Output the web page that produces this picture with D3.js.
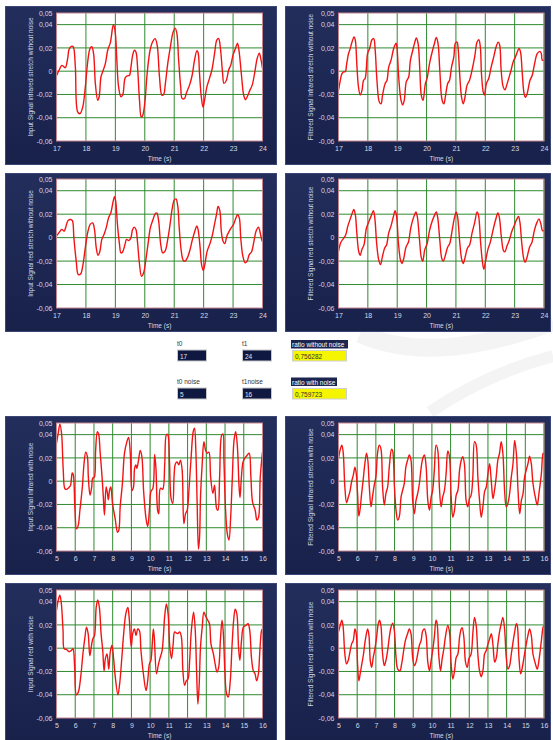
<!DOCTYPE html>
<html>
<head>
<meta charset="utf-8">
<script src="https://cdn.jsdelivr.net/npm/d3@7"></script>
<style>
  html, body { margin: 0; padding: 0; background: #fff; }
  svg { display: block; font-family: "Liberation Sans", Arial, sans-serif; }
</style>
</head>
<body>
<script>
// tick labels
const yTicks = [0.05, 0.04, 0.02, 0, -0.02, -0.04, -0.06];
const yGrid = [0.04, 0.02, 0, -0.02, -0.04];
const xTicksClean = [17, 18, 19, 20, 21, 22, 23, 24];
const xTicksNoisy = [5, 6, 7, 8, 9, 10, 11, 12, 13, 14, 15, 16];

const titles = [
  "Input  Signal infrared stretch without noise",
  "Filtered Signal infrared stretch without noise",
  "Input  Signal red stretch without noise",
  "Filtered Signal red stretch without noise",
  "Input  Signal infrared with noise",
  "Filtered Signal infrared stretch with noise",
  "Input Signal red with noise",
  "Filtered Signal red stretch with noise"
];

// series, [time (s), value]
const inIrClean = [[17.00,-0.004],[17.09,0.001],[17.18,0.005],[17.24,0.004],[17.30,0.003],[17.38,0.011],[17.43,0.019],[17.52,0.0215],[17.57,0.021],[17.64,0.004],[17.72,-0.035],[17.80,-0.0365],[17.89,-0.031],[17.98,-0.0135],[18.06,0.008],[18.14,0.0195],[18.20,0.021],[18.26,0.015],[18.32,-0.0105],[18.40,-0.025],[18.45,-0.022],[18.51,-0.005],[18.57,-0.0005],[18.66,0.0065],[18.74,0.018],[18.83,0.0245],[18.91,0.038],[18.94,0.040],[19.00,0.0325],[19.05,0.0095],[19.11,-0.0135],[19.19,-0.022],[19.25,-0.0205],[19.33,-0.006],[19.40,-0.004],[19.48,-0.0035],[19.53,0.0035],[19.59,0.014],[19.65,0.018],[19.70,0.0165],[19.76,0.001],[19.82,-0.025],[19.88,-0.0395],[19.93,-0.038],[20.01,-0.025],[20.08,-0.002],[20.18,0.018],[20.27,0.0255],[20.35,0.028],[20.42,0.0225],[20.50,-0.005],[20.58,-0.0205],[20.64,-0.020],[20.70,-0.0105],[20.78,0.0065],[20.88,0.0225],[20.95,0.0325],[21.03,0.037],[21.09,0.0325],[21.15,0.0095],[21.22,-0.0135],[21.27,-0.0235],[21.35,-0.0235],[21.41,-0.019],[21.52,-0.012],[21.61,-0.0035],[21.69,0.0095],[21.77,0.0175],[21.81,0.016],[21.86,-0.002],[21.92,-0.022],[21.98,-0.031],[22.03,-0.025],[22.11,-0.0135],[22.20,-0.006],[22.28,0.001],[22.37,0.015],[22.45,0.027],[22.51,0.028],[22.57,0.0195],[22.64,-0.0005],[22.69,-0.0105],[22.77,-0.008],[22.85,0.001],[22.92,0.005],[23.00,0.014],[23.08,0.0195],[23.15,0.024],[23.20,0.018],[23.28,-0.002],[23.36,-0.0205],[23.42,-0.0245],[23.48,-0.022],[23.57,-0.0165],[23.65,-0.012],[23.74,-0.0005],[23.82,0.011],[23.89,0.0155],[23.94,0.011],[24.00,0.0025]];

const filtIrClean = [[17.00,-0.0165],[17.06,-0.008],[17.11,-0.0025],[17.17,-0.0005],[17.23,-0.0005],[17.28,0.0065],[17.34,0.015],[17.40,0.0195],[17.46,0.025],[17.53,0.0295],[17.57,0.027],[17.63,0.0035],[17.68,-0.0135],[17.74,-0.0205],[17.80,-0.0165],[17.85,-0.008],[17.91,-0.006],[17.99,0.015],[18.06,0.0195],[18.14,0.027],[18.20,0.028],[18.25,0.018],[18.31,-0.008],[18.39,-0.0265],[18.45,-0.028],[18.50,-0.0205],[18.59,-0.0105],[18.65,-0.008],[18.71,0.0035],[18.79,0.0095],[18.88,0.0195],[18.96,0.024],[18.99,0.021],[19.05,-0.005],[19.13,-0.025],[19.19,-0.029],[19.24,-0.025],[19.31,-0.009],[19.39,-0.005],[19.45,0.0095],[19.53,0.018],[19.60,0.025],[19.65,0.0285],[19.71,0.024],[19.77,0.001],[19.82,-0.0205],[19.88,-0.025],[19.96,-0.0105],[20.02,-0.006],[20.10,0.0065],[20.19,0.0165],[20.27,0.024],[20.33,0.029],[20.39,0.024],[20.45,0.001],[20.53,-0.025],[20.59,-0.028],[20.64,-0.022],[20.72,-0.0105],[20.78,-0.008],[20.85,0.0035],[20.93,0.0125],[20.98,0.024],[21.04,0.025],[21.07,0.021],[21.13,-0.0035],[21.19,-0.022],[21.25,-0.028],[21.30,-0.0235],[21.38,-0.012],[21.46,-0.008],[21.55,0.001],[21.64,0.0125],[21.72,0.025],[21.78,0.027],[21.83,0.021],[21.87,-0.002],[21.93,-0.018],[21.97,-0.0205],[22.04,-0.0105],[22.12,-0.006],[22.20,0.0035],[22.29,0.0125],[22.37,0.021],[22.44,0.025],[22.49,0.0225],[22.54,0.001],[22.61,-0.0135],[22.67,-0.016],[22.73,-0.012],[22.80,-0.006],[22.88,0.001],[22.95,0.008],[23.03,0.0125],[23.09,0.0165],[23.15,0.0195],[23.20,0.0165],[23.26,-0.002],[23.32,-0.019],[23.37,-0.0225],[23.43,-0.019],[23.52,-0.008],[23.60,-0.0035],[23.68,0.0065],[23.77,0.015],[23.86,0.017],[23.91,0.015],[23.94,0.0095],[24.00,0.0095]];

const inRedClean = [[17.00,0.0015],[17.09,0.0045],[17.18,0.007],[17.26,0.0055],[17.31,0.0085],[17.39,0.0145],[17.48,0.0155],[17.54,0.0145],[17.59,0],[17.67,-0.020],[17.74,-0.0315],[17.82,-0.031],[17.89,-0.0245],[17.98,-0.0085],[18.07,0.0055],[18.15,0.0115],[18.23,0.0125],[18.29,0.007],[18.35,-0.0085],[18.41,-0.015],[18.47,-0.012],[18.54,-0.0015],[18.62,0.003],[18.69,0.0085],[18.77,0.017],[18.85,0.0215],[18.91,0.029],[18.97,0.035],[19.01,0.0315],[19.07,0.0115],[19.14,-0.0055],[19.19,-0.013],[19.25,-0.012],[19.33,-0.0055],[19.38,-0.0015],[19.46,-0.0025],[19.53,0],[19.58,0.0065],[19.64,0.009],[19.70,0.007],[19.75,-0.003],[19.81,-0.020],[19.89,-0.033],[19.96,-0.030],[20.03,-0.020],[20.11,-0.0055],[20.19,0.0085],[20.28,0.0155],[20.36,0.0205],[20.41,0.021],[20.47,0.0145],[20.54,-0.0055],[20.61,-0.013],[20.69,-0.0115],[20.78,-0.0015],[20.86,0.0115],[20.93,0.0245],[21.00,0.032],[21.06,0.033],[21.12,0.027],[21.17,0.0085],[21.24,-0.0115],[21.31,-0.0195],[21.37,-0.020],[21.45,-0.017],[21.54,-0.010],[21.62,-0.0015],[21.70,0.0055],[21.77,0.010],[21.81,0.007],[21.88,-0.0085],[21.93,-0.023],[21.99,-0.028],[22.04,-0.023],[22.12,-0.0115],[22.21,-0.0055],[22.29,0.0015],[22.37,0.0115],[22.44,0.020],[22.49,0.0265],[22.55,0.023],[22.60,0.0055],[22.66,-0.003],[22.72,-0.005],[22.79,0.0015],[22.87,0.0055],[22.94,0.0085],[23.02,0.0115],[23.10,0.017],[23.15,0.0195],[23.21,0.017],[23.26,0],[23.33,-0.0155],[23.41,-0.0215],[23.47,-0.0205],[23.55,-0.0145],[23.63,-0.012],[23.71,-0.003],[23.78,0.0055],[23.86,0.009],[23.91,0.0055],[23.97,-0.0015],[24.00,-0.0035]];

const filtRedClean = [[17.00,-0.012],[17.08,-0.004],[17.16,-0.001],[17.24,0.002],[17.32,0.010],[17.40,0.016],[17.47,0.021],[17.52,0.024],[17.57,0.020],[17.63,0.002],[17.69,-0.012],[17.74,-0.015],[17.80,-0.010],[17.87,-0.006],[17.95,0.008],[18.04,0.014],[18.12,0.019],[18.19,0.023],[18.24,0.016],[18.30,-0.005],[18.37,-0.019],[18.43,-0.023],[18.49,-0.017],[18.57,-0.009],[18.64,-0.006],[18.71,0.004],[18.79,0.010],[18.87,0.018],[18.93,0.023],[18.98,0.018],[19.04,-0.004],[19.11,-0.019],[19.16,-0.022],[19.22,-0.018],[19.30,-0.008],[19.38,-0.004],[19.46,0.008],[19.54,0.016],[19.60,0.020],[19.64,0.022],[19.69,0.017],[19.76,-0.002],[19.82,-0.017],[19.87,-0.020],[19.94,-0.010],[20.02,-0.005],[20.10,0.006],[20.19,0.014],[20.27,0.019],[20.33,0.022],[20.38,0.017],[20.45,-0.002],[20.52,-0.018],[20.57,-0.020],[20.63,-0.016],[20.72,-0.008],[20.79,-0.005],[20.87,0.006],[20.95,0.017],[21.01,0.022],[21.06,0.017],[21.13,-0.004],[21.20,-0.019],[21.25,-0.022],[21.31,-0.017],[21.39,-0.009],[21.47,-0.006],[21.55,0.004],[21.64,0.013],[21.72,0.022],[21.77,0.019],[21.84,-0.004],[21.90,-0.020],[21.95,-0.027],[22.01,-0.020],[22.09,-0.010],[22.17,-0.004],[22.26,0.006],[22.35,0.015],[22.43,0.021],[22.48,0.017],[22.55,0.000],[22.62,-0.011],[22.67,-0.012],[22.74,-0.007],[22.82,-0.002],[22.90,0.005],[22.98,0.010],[23.06,0.015],[23.13,0.018],[23.18,0.013],[23.24,-0.004],[23.31,-0.018],[23.36,-0.021],[23.42,-0.017],[23.51,-0.008],[23.59,-0.004],[23.67,0.006],[23.76,0.013],[23.83,0.016],[23.89,0.012],[23.95,0.006],[24.00,0.006]];

const inIrNoisy = [[5.00,0.0325],[5.09,0.041],[5.18,0.049],[5.27,0.041],[5.36,0.0095],[5.45,-0.0065],[5.54,-0.007],[5.66,-0.0055],[5.75,-0.0035],[5.84,0.007],[5.89,0.006],[5.98,-0.022],[6.07,-0.041],[6.16,-0.038],[6.25,-0.025],[6.38,-0.005],[6.47,0.015],[6.56,0.025],[6.65,0.021],[6.70,0.0035],[6.79,-0.012],[6.88,-0.005],[6.93,0.0025],[7.02,0.0035],[7.09,0.0265],[7.18,0.0425],[7.25,0.0405],[7.33,0.025],[7.42,0.0065],[7.50,-0.0135],[7.56,-0.029],[7.65,-0.005],[7.72,-0.0105],[7.77,-0.016],[7.83,-0.008],[7.90,-0.005],[7.99,-0.019],[8.13,-0.032],[8.26,-0.044],[8.33,-0.042],[8.40,-0.022],[8.52,-0.002],[8.63,0.024],[8.76,0.034],[8.85,0.0375],[8.94,0.024],[9.03,-0.008],[9.11,-0.005],[9.17,0.011],[9.24,0.014],[9.29,0.011],[9.38,0.018],[9.47,0.0265],[9.56,0.021],[9.65,-0.008],[9.78,-0.032],[9.87,-0.039],[9.96,-0.025],[10.04,-0.009],[10.15,-0.006],[10.24,0.023],[10.31,0.011],[10.40,-0.025],[10.46,-0.028],[10.55,-0.006],[10.67,-0.007],[10.78,0.015],[10.87,0.040],[10.94,0.040],[11.03,0.018],[11.12,-0.015],[11.21,-0.019],[11.28,0.005],[11.35,0.015],[11.44,0.0165],[11.53,0.014],[11.62,0.018],[11.71,0.0095],[11.80,-0.0365],[11.89,-0.028],[11.98,-0.025],[12.07,-0.008],[12.19,0.021],[12.30,0.0425],[12.37,0.0455],[12.44,0.0265],[12.51,-0.019],[12.58,-0.0585],[12.64,-0.048],[12.69,-0.0135],[12.78,0.015],[12.87,0.034],[12.96,0.0265],[13.05,0.024],[13.14,0.025],[13.23,0.0035],[13.35,-0.0105],[13.44,-0.0035],[13.55,-0.0235],[13.62,-0.025],[13.71,0.0035],[13.82,0.0395],[13.89,0.0405],[13.94,0.018],[14.03,-0.025],[14.12,-0.045],[14.21,-0.0505],[14.30,-0.031],[14.39,0.0035],[14.48,0.035],[14.57,0.0425],[14.66,0.0295],[14.75,-0.005],[14.80,-0.014],[14.87,0.0025],[14.96,0.0165],[15.05,0.0195],[15.19,0.0225],[15.29,0.024],[15.38,0.0035],[15.47,-0.018],[15.61,-0.025],[15.70,-0.0335],[15.79,-0.031],[15.88,0.0035],[16.00,0.025]];

const filtIrNoisy = [[5.00,0.0195],[5.09,0.027],[5.18,0.031],[5.25,0.025],[5.34,-0.005],[5.43,-0.0185],[5.52,-0.014],[5.61,-0.009],[5.70,-0.0005],[5.79,0.005],[5.88,0.012],[5.95,0.0065],[6.02,-0.0105],[6.09,-0.030],[6.16,-0.0235],[6.23,-0.012],[6.32,0.001],[6.41,0.015],[6.50,0.024],[6.57,0.018],[6.65,-0.005],[6.74,-0.022],[6.82,-0.0135],[6.91,-0.0035],[7.00,0.0035],[7.09,0.024],[7.18,0.031],[7.27,0.028],[7.36,-0.005],[7.45,-0.0205],[7.54,-0.0105],[7.63,-0.005],[7.72,0.0125],[7.84,0.0275],[7.90,0.026],[7.99,-0.0035],[8.08,-0.025],[8.17,-0.0335],[8.26,-0.030],[8.35,-0.0135],[8.43,-0.008],[8.52,-0.002],[8.61,0.0125],[8.70,0.018],[8.79,0.0225],[8.88,0.018],[8.97,-0.0165],[9.06,-0.028],[9.15,-0.0165],[9.24,-0.0105],[9.33,-0.002],[9.42,0.011],[9.51,0.0195],[9.60,0.0225],[9.69,0.0125],[9.78,-0.0165],[9.87,-0.025],[9.96,-0.0135],[10.04,-0.008],[10.13,0.0095],[10.22,0.031],[10.31,0.027],[10.40,-0.005],[10.49,-0.022],[10.58,-0.0135],[10.67,-0.008],[10.76,0.0065],[10.85,0.026],[10.94,0.021],[11.03,-0.0135],[11.12,-0.031],[11.21,-0.025],[11.30,-0.012],[11.39,-0.008],[11.48,0.0095],[11.57,0.018],[11.65,0.021],[11.74,0.015],[11.83,-0.0165],[11.92,-0.022],[12.01,-0.015],[12.10,-0.012],[12.19,0.0035],[12.28,0.034],[12.37,0.031],[12.46,0.0035],[12.55,-0.0165],[12.64,-0.031],[12.73,-0.022],[12.82,-0.009],[12.91,-0.005],[13.00,0.0065],[13.09,0.015],[13.18,-0.0005],[13.27,-0.015],[13.35,-0.008],[13.44,0.0035],[13.53,0.018],[13.62,0.024],[13.71,0.034],[13.80,0.024],[13.89,-0.008],[13.98,-0.022],[14.07,-0.019],[14.16,-0.0105],[14.25,0.0035],[14.34,0.015],[14.43,0.035],[14.52,0.024],[14.61,-0.008],[14.70,-0.028],[14.79,-0.0165],[14.88,-0.0105],[14.96,0.0035],[15.14,0.015],[15.23,0.0215],[15.32,0.015],[15.41,-0.002],[15.55,-0.015],[15.64,-0.0205],[15.73,-0.0105],[15.86,0.0065],[15.95,0.024],[16.00,0.0225]];

const inRedNoisy = [[5.00,0.0325],[5.09,0.041],[5.18,0.0455],[5.26,0.038],[5.35,0.015],[5.41,-0.0005],[5.53,-0.001],[5.67,-0.003],[5.79,-0.002],[5.88,-0.0005],[5.97,-0.0165],[6.06,-0.040],[6.16,-0.038],[6.29,-0.025],[6.41,-0.005],[6.52,0.0095],[6.60,0.018],[6.69,0.0125],[6.78,-0.0065],[6.87,0.0025],[6.94,0.008],[7.03,0.011],[7.12,0.035],[7.20,0.0415],[7.29,0.035],[7.38,0.0125],[7.47,-0.002],[7.54,-0.0195],[7.61,-0.009],[7.70,-0.005],[7.79,-0.018],[7.87,-0.0035],[7.96,0.0025],[8.05,-0.009],[8.14,-0.025],[8.28,-0.040],[8.37,-0.031],[8.49,-0.008],[8.58,0.011],[8.70,0.0295],[8.81,0.035],[8.88,0.0265],[8.99,0.001],[9.07,0.0125],[9.16,0.0165],[9.25,0.011],[9.34,0.0165],[9.43,0.015],[9.51,-0.002],[9.64,-0.022],[9.78,-0.0365],[9.87,-0.028],[9.96,-0.0135],[10.04,-0.0105],[10.17,0.0165],[10.22,0.0095],[10.34,-0.022],[10.43,-0.015],[10.52,-0.009],[10.64,-0.002],[10.78,0.028],[10.87,0.038],[10.96,0.0295],[11.05,0.001],[11.14,-0.009],[11.23,0.0035],[11.31,0.014],[11.46,0.0125],[11.58,0.014],[11.67,0.0095],[11.75,-0.0195],[11.84,-0.032],[11.93,-0.028],[12.02,-0.0265],[12.11,-0.0105],[12.20,0.015],[12.32,0.031],[12.41,0.015],[12.48,-0.0195],[12.55,-0.048],[12.62,-0.031],[12.69,0.001],[12.78,0.018],[12.87,0.031],[12.95,0.028],[13.08,0.024],[13.17,0.021],[13.25,0.0035],[13.38,-0.005],[13.47,-0.0135],[13.57,-0.0205],[13.66,-0.0165],[13.75,0.0065],[13.84,0.024],[13.91,0.0125],[13.99,-0.0195],[14.08,-0.039],[14.17,-0.042],[14.28,-0.028],[14.37,0.001],[14.46,0.024],[14.54,0.0335],[14.63,0.0295],[14.72,0.001],[14.79,-0.0105],[14.88,0.0065],[14.98,0.018],[15.11,0.0195],[15.23,0.021],[15.32,0.015],[15.41,-0.008],[15.51,-0.0195],[15.60,-0.022],[15.69,-0.028],[15.78,-0.022],[15.86,-0.002],[15.95,0.015],[16.00,0.0165]];

const filtRedNoisy = [[5.00,0.014],[5.09,0.0195],[5.18,0.024],[5.25,0.018],[5.34,-0.005],[5.43,-0.0135],[5.52,-0.0105],[5.61,-0.0035],[5.70,0.0035],[5.79,0.0065],[5.88,0.0165],[5.95,0.0125],[6.02,-0.0135],[6.09,-0.028],[6.16,-0.022],[6.25,-0.0135],[6.34,-0.005],[6.43,0.0065],[6.56,0.0165],[6.63,0.011],[6.70,-0.0105],[6.77,-0.0165],[6.86,-0.008],[6.95,-0.0005],[7.04,0.0095],[7.13,0.021],[7.20,0.024],[7.27,0.0195],[7.36,-0.005],[7.45,-0.015],[7.54,-0.0105],[7.63,-0.002],[7.72,0.0095],[7.81,0.018],[7.90,0.0215],[7.99,0.015],[8.08,-0.008],[8.17,-0.018],[8.29,-0.0195],[8.38,-0.0135],[8.49,-0.002],[8.58,0.0065],[8.70,0.0125],[8.79,0.0165],[8.88,0.0125],[8.97,-0.008],[9.06,-0.015],[9.15,-0.012],[9.24,-0.005],[9.33,0.0025],[9.42,0.0065],[9.51,0.015],[9.60,0.0165],[9.69,0.011],[9.78,-0.012],[9.87,-0.0195],[9.96,-0.0105],[10.04,-0.002],[10.13,0.0095],[10.22,0.024],[10.28,0.021],[10.37,-0.0065],[10.46,-0.0195],[10.55,-0.009],[10.64,-0.0005],[10.72,0.0095],[10.85,0.0195],[10.94,0.014],[11.03,-0.0135],[11.12,-0.0265],[11.21,-0.0195],[11.30,-0.008],[11.39,-0.005],[11.48,0.0095],[11.57,0.0165],[11.62,0.0175],[11.71,0.0095],[11.80,-0.012],[11.89,-0.0165],[11.98,-0.009],[12.10,-0.005],[12.19,0.0125],[12.28,0.0265],[12.37,0.0195],[12.46,-0.005],[12.55,-0.0195],[12.64,-0.0245],[12.73,-0.0195],[12.82,-0.005],[12.91,-0.002],[13.00,0.0035],[13.09,0.008],[13.18,0.0125],[13.27,0.0025],[13.36,-0.012],[13.45,-0.008],[13.53,0.0035],[13.62,0.014],[13.71,0.021],[13.80,0.0265],[13.89,0.0165],[13.98,-0.008],[14.07,-0.018],[14.16,-0.015],[14.25,-0.005],[14.34,0.005],[14.43,0.014],[14.52,0.021],[14.57,0.0195],[14.66,-0.008],[14.75,-0.022],[14.84,-0.0165],[14.93,-0.008],[15.05,0.0035],[15.14,0.011],[15.23,0.0165],[15.32,0.011],[15.41,-0.005],[15.54,-0.0135],[15.64,-0.018],[15.73,-0.0105],[15.86,0.0065],[15.95,0.018],[16.00,0.0195]];

// control values
const controlLabels = ["t0", "t1", "t0 noise", "t1noise"];
const controlValues = ["17", "24", "5", "16"];
const ratioLabels = ["ratio without noise", "ratio with noise"];
const ratioValues = ["0,756282", "0,759723"];

const svg = d3.select("body")
    .append("svg")
    .attr("width", 553)
    .attr("height", 740);

const defs = svg.append("defs");
const grad = defs.append("linearGradient")
    .attr("id", "frameGrad")
    .attr("x1", 0).attr("y1", 0).attr("x2", 0).attr("y2", 1);
grad.append("stop").attr("offset", "0%").attr("stop-color", "#232e5c");
grad.append("stop").attr("offset", "100%").attr("stop-color", "#18214a");

// very faint watermark behind the controls
const wm = svg.append("g").attr("pointer-events", "none");
wm.append("path")
    .attr("d", "M360,334 C420,360 490,345 553,322")
    .attr("fill", "none").attr("stroke", "#dcdcdc").attr("stroke-width", 18).attr("opacity", 0.3);
wm.append("path")
    .attr("d", "M430,412 C470,385 515,366 553,356")
    .attr("fill", "none").attr("stroke", "#dcdcdc").attr("stroke-width", 12).attr("opacity", 0.3);

// panel layout: frame box and plot box
const leftCol = { fx: 5, fw: 272, px: 56.5, pw: 206 };
const rightCol = { fx: 285, fw: 266, px: 338.5, pw: 205.5 };
const rows = [
    { fy: 6, fh: 159, py: 13, ph: 128 },
    { fy: 173, fh: 159, py: 179, ph: 129 },
    { fy: 416, fh: 159, py: 423, ph: 128 },
    { fy: 583, fh: 159, py: 590, ph: 128 }
];
const series = [inIrClean, filtIrClean, inRedClean, filtRedClean, inIrNoisy, filtIrNoisy, inRedNoisy, filtRedNoisy];

series.forEach((data, i) => {
    const r = rows[Math.floor(i / 2)];
    const c = i % 2 === 0 ? leftCol : rightCol;
    const ticks = i < 4 ? xTicksClean : xTicksNoisy;
    drawPanel(data, titles[i], ticks, c, r, i);
});

function drawPanel(data, title, ticks, c, r, idx) {
    const g = svg.append("g");

    // frame
    g.append("rect")
        .attr("x", c.fx).attr("y", r.fy)
        .attr("width", c.fw).attr("height", r.fh)
        .attr("fill", "url(#frameGrad)");
    g.append("rect")
        .attr("x", c.fx + 0.5).attr("y", r.fy + 0.5)
        .attr("width", c.fw - 1).attr("height", r.fh - 1)
        .attr("fill", "none")
        .attr("stroke", "#3a4676")
        .attr("stroke-width", 1);

    const x = d3.scaleLinear()
        .domain([ticks[0], ticks[ticks.length - 1]])
        .range([c.px, c.px + c.pw]);
    const y = d3.scaleLinear()
        .domain([-0.06, 0.05])
        .range([r.py + r.ph, r.py]);

    // plot area
    g.append("rect")
        .attr("x", c.px).attr("y", r.py)
        .attr("width", c.pw).attr("height", r.ph)
        .attr("fill", "#ffffff");

    // grid
    g.append("g")
        .selectAll("line")
        .data(ticks)
        .enter()
        .append("line")
        .attr("x1", d => x(d)).attr("x2", d => x(d))
        .attr("y1", r.py).attr("y2", r.py + r.ph)
        .attr("stroke", "#2f8a2f")
        .attr("stroke-width", 1);
    g.append("g")
        .selectAll("line")
        .data(yGrid)
        .enter()
        .append("line")
        .attr("x1", c.px).attr("x2", c.px + c.pw)
        .attr("y1", d => y(d)).attr("y2", d => y(d))
        .attr("stroke", "#2f8a2f")
        .attr("stroke-width", 1);

    // signal
    const clipId = "clip" + idx;
    defs.append("clipPath").attr("id", clipId)
        .append("rect")
        .attr("x", c.px).attr("y", r.py)
        .attr("width", c.pw).attr("height", r.ph);

    const line = d3.line()
        .x(d => x(d[0]))
        .y(d => y(d[1]))
        .curve(d3.curveCatmullRom.alpha(0.5));

    g.append("path")
        .datum(data)
        .attr("clip-path", "url(#" + clipId + ")")
        .attr("d", line)
        .attr("fill", "none")
        .attr("stroke", "#f21414")
        .attr("stroke-width", 1.4)
        .attr("stroke-linejoin", "round");

    // plot border
    g.append("rect")
        .attr("x", c.px).attr("y", r.py)
        .attr("width", c.pw).attr("height", r.ph)
        .attr("fill", "none")
        .attr("stroke", "#c7868e")
        .attr("stroke-width", 1);

    // axes
    const xAxis = d3.axisBottom(x).tickValues(ticks).tickSize(0).tickPadding(5)
        .tickFormat(d3.format("d"));
    const yAxis = d3.axisLeft(y).tickValues(yTicks).tickSize(0).tickPadding(4)
        .tickFormat(d => d === 0 ? "0" : d.toFixed(2).replace(".", ","));

    const gx = g.append("g")
        .attr("transform", "translate(0," + (r.py + r.ph) + ")")
        .call(xAxis);
    const gy = g.append("g")
        .attr("transform", "translate(" + c.px + ",0)")
        .call(yAxis);
    [gx, gy].forEach(a => {
        a.select(".domain").remove();
        a.selectAll("text")
            .attr("fill", "#d4d8e4")
            .attr("font-size", 7)
            .attr("font-family", "Liberation Sans, Arial, sans-serif");
    });

    // axis titles
    g.append("text")
        .attr("x", c.px + c.pw / 2)
        .attr("y", r.py + r.ph + 20)
        .attr("text-anchor", "middle")
        .attr("fill", "#d4d8e4")
        .attr("font-size", 6.5)
        .text("Time (s)");
    g.append("text")
        .attr("transform", "translate(" + (c.fx + 27.5) + "," + (r.py + r.ph / 2) + ") rotate(-90)")
        .attr("text-anchor", "middle")
        .attr("fill", "#d4d8e4")
        .attr("font-size", 6.5)
        .text(title);
}

// middle controls
const ctrlPos = [
    { x: 178, y: 350 }, { x: 243, y: 350 },
    { x: 178, y: 388 }, { x: 243, y: 388 }
];
ctrlPos.forEach((p, i) => {
    svg.append("text")
        .attr("x", p.x - 1).attr("y", p.y - 4)
        .attr("font-size", 6.5)
        .attr("fill", "#333")
        .text(controlLabels[i]);
    svg.append("rect")
        .attr("x", p.x - 1).attr("y", p.y - 0.5)
        .attr("width", 30).attr("height", 12)
        .attr("fill", "#c8c8c8");
    svg.append("rect")
        .attr("x", p.x).attr("y", p.y + 0.5)
        .attr("width", 28).attr("height", 10)
        .attr("fill", "#0f1840");
    svg.append("text")
        .attr("x", p.x + 2).attr("y", p.y + 8.5)
        .attr("font-size", 6.5)
        .attr("fill", "#e0e4f0")
        .text(controlValues[i]);
});

const ratioPos = [
    { x: 291, y: 340, lw: 57, vy: 351 },
    { x: 291, y: 377.5, lw: 46, vy: 389 }
];
ratioPos.forEach((p, i) => {
    svg.append("rect")
        .attr("x", p.x).attr("y", p.y)
        .attr("width", p.lw).attr("height", 8.5)
        .attr("fill", "#1c2550");
    svg.append("text")
        .attr("x", p.x + 1).attr("y", p.y + 7)
        .attr("font-size", 6.5)
        .attr("fill", "#ffffff")
        .text(ratioLabels[i]);
    svg.append("rect")
        .attr("x", 292).attr("y", p.vy - 1)
        .attr("width", 55).attr("height", 11.5)
        .attr("fill", "#cfcfcf");
    svg.append("rect")
        .attr("x", 293.5).attr("y", p.vy)
        .attr("width", 52.5).attr("height", 9.5)
        .attr("fill", "#f5f500");
    svg.append("text")
        .attr("x", 295).attr("y", p.vy + 7.5)
        .attr("font-size", 6.5)
        .attr("fill", "#333")
        .text(ratioValues[i]);
});
</script>
</body>
</html>
